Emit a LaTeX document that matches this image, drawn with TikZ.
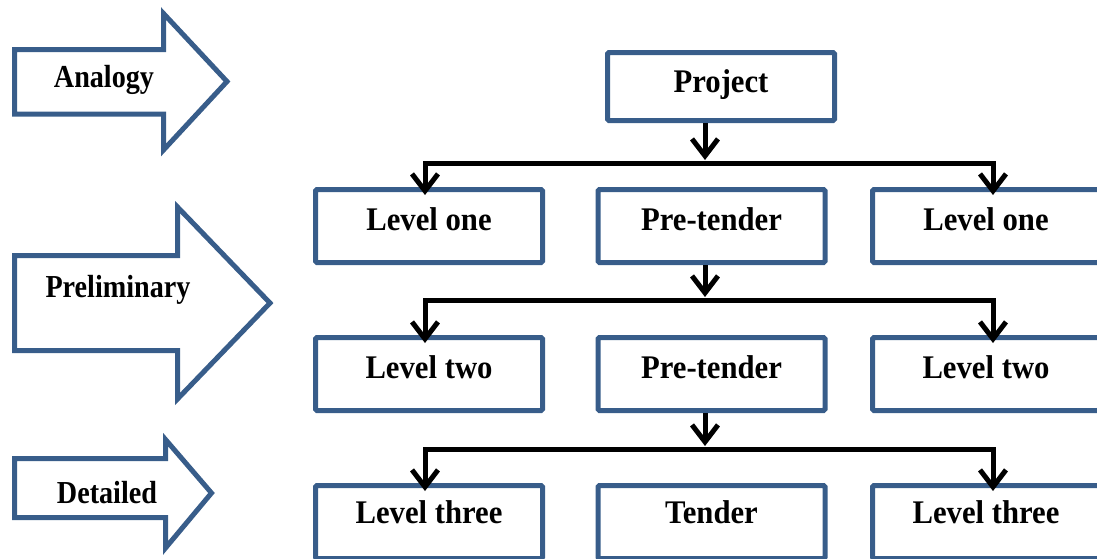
\documentclass[tikz,border=0pt]{standalone}
\usepackage{fontspec}
\setmainfont{Liberation Serif}
\newfontfamily\boxfont[FakeStretch=0.93]{Liberation Serif}
\newfontfamily\stagefont[FakeStretch=0.88]{Liberation Serif}
\usetikzlibrary{arrows.meta,calc}
\definecolor{outline}{HTML}{385D8A}

\tikzset{
  box/.style={draw=outline, line width=5pt, rounded corners=1.5pt,
    minimum width=227pt, minimum height=73pt, inner sep=0pt,
    font=\boxfont\bfseries\fontsize{33}{36}\selectfont,
    text height=22pt, text depth=14pt},
  lastrow/.style={text height=22pt, text depth=20pt},
  barb/.tip={Straight Barb[length=17pt,width=26pt]},
  flow/.style={line width=5pt, -barb},
  branch/.style={line width=5pt, barb-barb, line join=miter},
  stage/.style={draw=outline, line width=5pt, line join=miter},
  stagetext/.style={font=\stagefont\bfseries\fontsize{32}{34}\selectfont,
    anchor=base, inner sep=0pt}
}

\begin{document}
\begin{tikzpicture}[x=1pt, y=-1pt]
  \useasboundingbox (0,0) rectangle (1097,558);
  \clip (0,0) rectangle (1097,558);

  % stage arrows on the left
  \draw[stage] (14.5,49.5) -- (163.5,49.5) -- (163.5,13.5) -- (227,81.5) -- (163.5,150)
    -- (163.5,114) -- (14.5,114) -- cycle;
  \node[stagetext] (analogy) at (104,87) {Analogy};

  \draw[stage] (14.5,255.5) -- (177.5,255.5) -- (177.5,207) -- (270,303) -- (177.5,399)
    -- (177.5,350.5) -- (14.5,350.5) -- cycle;
  \node[stagetext] (prelim) at (118,297) {Preliminary};

  \draw[stage] (14.5,458.5) -- (165.5,458.5) -- (165.5,439.5) -- (211.5,493) -- (165.5,548)
    -- (165.5,517.5) -- (14.5,517.5) -- cycle;
  \node[stagetext] (detailed) at (107,503) {Detailed};

  % estimate boxes
  \node[box, minimum height=68pt, text depth=11pt] (proj) at (721,86.5) {Project};

  \node[box] (l1) at (429,226)   {Level one};
  \node[box] (m1) at (711.5,226) {Pre-tender};
  \node[box] (r1) at (986,226)   {Level one};

  \node[box] (l2) at (429,374)   {Level two};
  \node[box] (m2) at (711.5,374) {Pre-tender};
  \node[box] (r2) at (986,374)   {Level two};

  \node[box, lastrow] (l3) at (429,522)   {Level three};
  \node[box, lastrow] (m3) at (711.5,522) {Tender};
  \node[box, lastrow] (r3) at (986,522)   {Level three};

  % junction points of the branching lines
  \coordinate (j1) at (705,160);
  \coordinate (a1) at (425,163);
  \coordinate (b1) at (993,163);
  \coordinate (j2) at (705,297);
  \coordinate (a2) at (425,300);
  \coordinate (b2) at (993,300);
  \coordinate (j3) at (705,446);
  \coordinate (a3) at (425,449);
  \coordinate (b3) at (993,449);

  % connectors
  \draw[flow] (proj.south -| j1) -- (j1);
  \draw[branch] ($(a1 |- l1.north)+(0,8)$) -- (a1) -- (b1) -- ($(b1 |- r1.north)+(0,8)$);

  \draw[flow] (m1.south -| j2) -- (j2);
  \draw[branch] ($(a2 |- l2.north)+(0,8)$) -- (a2) -- (b2) -- ($(b2 |- r2.north)+(0,8)$);

  \draw[flow] (m2.south -| j3) -- (j3);
  \draw[branch] ($(a3 |- l3.north)+(0,8)$) -- (a3) -- (b3) -- ($(b3 |- r3.north)+(0,8)$);
\end{tikzpicture}
\end{document}
